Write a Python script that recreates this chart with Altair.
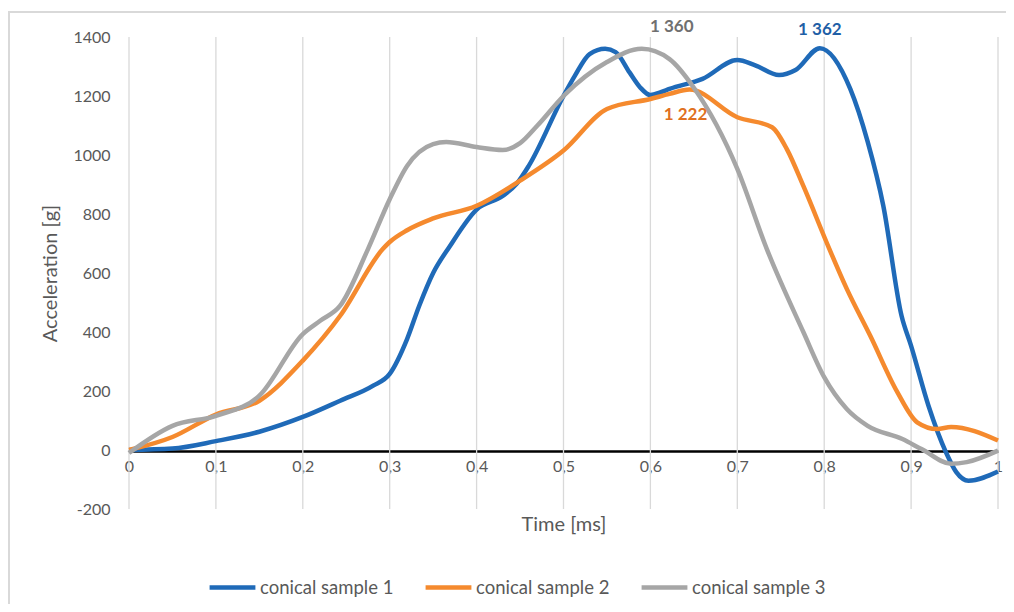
import altair as alt
import pandas as pd

# ---- data ----
s1_t = [0, 0.05, 0.1, 0.15, 0.2, 0.243, 0.281, 0.3, 0.32, 0.334, 0.35, 0.369, 0.4, 0.43, 0.446, 0.46,
        0.5, 0.513, 0.53, 0.548, 0.56, 0.576, 0.588, 0.6, 0.612, 0.622, 0.66, 0.7, 0.72, 0.748, 0.767,
        0.795, 0.83, 0.85, 0.868, 0.889, 0.9, 0.92, 0.94, 0.952, 0.966, 1.0]
s1_v = [0, 5, 30, 62, 112, 167, 218, 258, 376, 489, 600, 690, 815, 861, 902, 963,
        1200, 1268, 1342, 1360, 1349, 1280, 1230, 1203, 1213, 1224, 1258, 1322, 1305, 1271, 1288,
        1362, 1224, 1045, 828, 455, 353, 150, -7, -75, -104, -73]

s2_t = [0, 0.05, 0.1, 0.15, 0.2, 0.243, 0.292, 0.3, 0.32, 0.35, 0.4, 0.45, 0.5, 0.55, 0.6,
        0.622, 0.645, 0.7, 0.74, 0.757, 0.776, 0.806, 0.826, 0.853, 0.884, 0.907, 0.93, 0.946, 1.0]
s2_v = [0, 44, 120, 167, 303, 455, 681, 705, 745, 785, 828, 913, 1015, 1156, 1190,
        1207, 1222, 1128, 1094, 1020, 895, 681, 546, 387, 197, 94, 71, 78, 32]

s3_t = [0, 0.05, 0.1, 0.15, 0.2, 0.22, 0.243, 0.275, 0.3, 0.32, 0.35, 0.365, 0.4, 0.43, 0.45,
        0.47, 0.5, 0.55, 0.59, 0.622, 0.65, 0.7, 0.734, 0.776, 0.8, 0.826, 0.85, 0.89, 0.912,
        0.946, 0.964, 1.0]
s3_v = [-10, 82, 116, 184, 393, 438, 489, 681, 850, 963, 1037, 1044, 1027, 1017, 1040,
        1100, 1200, 1315, 1360, 1325, 1228, 953, 681, 400, 247, 139, 82, 37, 3,
        -47, -41, -2]

series_names = ["conical sample 1", "conical sample 2", "conical sample 3"]
line_colors = ["#1F6AB8", "#F58A2E", "#A6A6A6"]

label_t = [0.795, 0.645, 0.59]
label_v = [1362, 1222, 1360]
label_txt = ["1 362", "1 222", "1 360"]
label_colors = ["#1F5FA6", "#E07020", "#707070"]

x_ticks = [0, 0.1, 0.2, 0.3, 0.4, 0.5, 0.6, 0.7, 0.8, 0.9, 1.0]
y_ticks = [-200, 0, 200, 400, 600, 800, 1000, 1200, 1400]

# ---- tables ----
rows = []
for name, ts, vs in zip(series_names, [s1_t, s2_t, s3_t], [s1_v, s2_v, s3_v]):
    for t, v in zip(ts, vs):
        rows.append({"t": t, "v": v, "series": name})
df = pd.DataFrame(rows)
df_lab = pd.DataFrame({"t": label_t, "v": label_v, "label": label_txt, "series": series_names})
df_x = pd.DataFrame({"t": x_ticks})

FONT = "Lato"
W, H = 869, 472

xscale = alt.Scale(domain=[0, 1], nice=False, zero=False)
yscale = alt.Scale(domain=[-200, 1400], nice=False, zero=False)

xgrid = alt.Chart(df_x).mark_rule(color="#D9D9D9", strokeWidth=1.3).encode(
    x=alt.X("t:Q", scale=xscale),
    y=alt.datum(-200, scale=yscale),
    y2=alt.datum(1400),
)

lines = alt.Chart(df).mark_line(strokeWidth=4.5, interpolate="monotone").encode(
    x=alt.X("t:Q", scale=xscale,
            axis=alt.Axis(title="Time [ms]", values=x_ticks, grid=False, ticks=False,
                          offset=-58, domainColor="#000000", domainWidth=2.5,
                          labelExpr="replace(format(datum.value, '.1~f'), '.', ',')",
                          labelFlush=False, labelPadding=7, titlePadding=40)),
    y=alt.Y("v:Q", scale=yscale,
            axis=alt.Axis(title="Acceleration [g]", values=y_ticks, ticks=False, domain=False,
                          gridColor="#D9D9D9", gridWidth=1.3, labelPadding=19,
                          labelExpr="'' + datum.value", labelFlush=False,
                          titlePadding=12)),
    color=alt.Color("series:N",
                    scale=alt.Scale(domain=series_names, range=line_colors),
                    legend=alt.Legend(title=None, orient="none", legendX=78, legendY=525,
                                      direction="horizontal", symbolType="stroke",
                                      symbolStrokeWidth=4.5, symbolSize=2100,
                                      labelOffset=2, columnPadding=22,
                                      labelFontSize=18.5, labelColor="#595959",
                                      labelFont=FONT)),
    order=alt.Order("t:Q"),
)

dx_list = [0, -4, 30]
dy_list = [-18, 25, -22]
texts = []
for i in range(3):
    texts.append(
        alt.Chart(df_lab).transform_filter(alt.datum.series == series_names[i]).mark_text(
            font=FONT, fontSize=17, fontWeight="bold", color=label_colors[i],
            dx=dx_list[i], dy=dy_list[i]
        ).encode(x=alt.X("t:Q", scale=xscale), y=alt.Y("v:Q", scale=yscale), text="label:N")
    )

border_top = alt.Chart(df_x).mark_rule(color="#D9D9D9", strokeWidth=1.5).encode(
    x=alt.value(-121), x2=alt.value(1000), y=alt.value(-25))
border_left = alt.Chart(df_x).mark_rule(color="#D9D9D9", strokeWidth=1.5).encode(
    x=alt.value(-120), y=alt.value(-25), y2=alt.value(700))

chart = alt.layer(border_top, border_left, xgrid, lines, *texts).properties(
    width=W, height=H,
    autosize=alt.AutoSizeParams(type="none"),
    padding={"left": 121, "top": 29, "right": 8, "bottom": 95},
).configure_view(strokeWidth=0).configure_axis(
    labelFont=FONT, labelFontSize=16, labelColor="#595959",
    titleFont=FONT, titleFontSize=20, titleColor="#595959", titleFontWeight="normal",
)

chart.save("out.html", embed_options={"renderer": "svg", "actions": False})
